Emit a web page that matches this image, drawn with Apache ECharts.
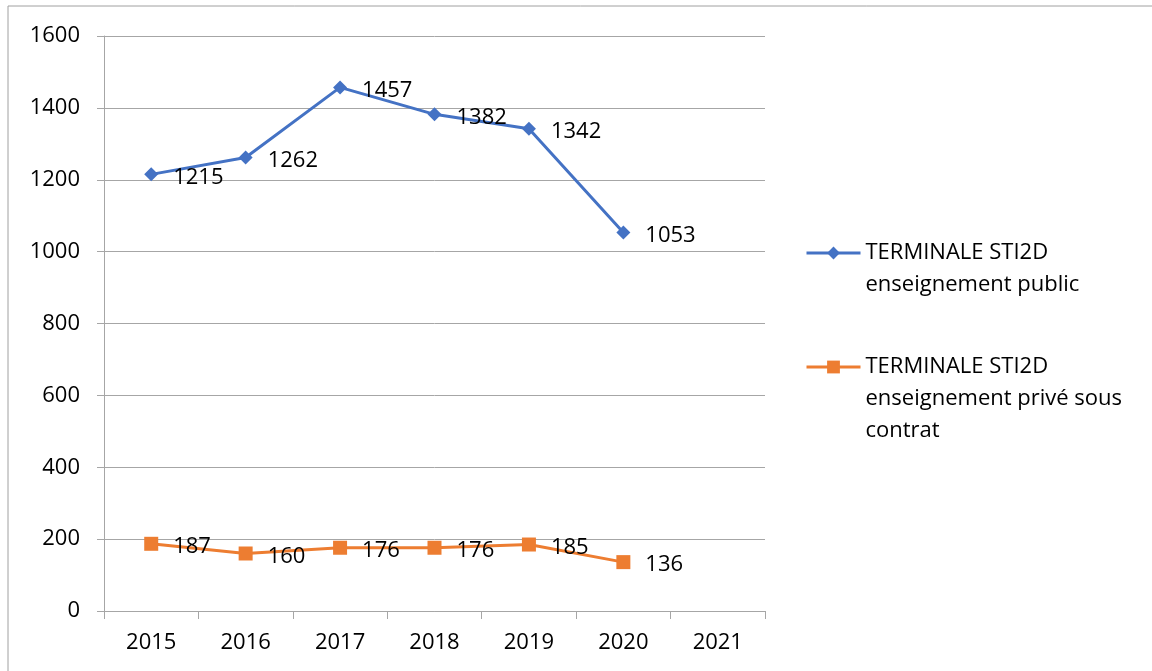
<!DOCTYPE html>
<html>
<head>
<meta charset="utf-8">
<script src="https://cdn.jsdelivr.net/npm/echarts@6/dist/echarts.min.js"></script>
<style>html,body{margin:0;padding:0;background:#fff}#c{width:1152px;height:671px}</style>
</head>
<body>
<div id="c"></div>
<script>
const categories = ['2015','2016','2017','2018','2019','2020','2021'];
const publicValues = [1215, 1262, 1457, 1382, 1342, 1053, null];
const privateValues = [187, 160, 176, 176, 185, 136, null];
const seriesNames = ['TERMINALE STI2D\nenseignement public', 'TERMINALE STI2D\nenseignement privé sous\ncontrat'];

const FONT = '"Open Sans", sans-serif';
const chart = echarts.init(document.getElementById('c'));
const labelCfg = {
  show: true, position: 'right', distance: 15, offset: [0, 3],
  color: '#000', fontSize: 22, fontFamily: FONT
};
// prepend blank lines so the legend marker sits on the first text line
const legendFmt = name => '\n'.repeat(name.split('\n').length - 1) + name;
const legendBase = {
  orient: 'vertical', left: 805, padding: 0,
  itemWidth: 54, itemHeight: 16, textGap: 6,
  lineStyle: { width: 3 },
  textStyle: { fontSize: 22, fontFamily: FONT, color: '#000', lineHeight: 32 },
  formatter: legendFmt
};
chart.setOption({
  animation: false,
  backgroundColor: '#fff',
  graphic: [{
    type: 'rect', shape: { x: 8, y: 6, width: 1200, height: 720 },
    style: { fill: 'none', stroke: '#a0a0a0', lineWidth: 1 }, z: -1
  }],
  grid: { left: 104, right: 387, top: 36, bottom: 60 },
  legend: [
    Object.assign({}, legendBase, { top: 205, data: [seriesNames[0]] }),
    Object.assign({}, legendBase, { top: 287, data: [seriesNames[1]] })
  ],
  xAxis: {
    type: 'category', data: categories, boundaryGap: true,
    axisLine: { lineStyle: { color: '#a6a6a6', width: 1 } },
    axisTick: { show: true, length: 8, lineStyle: { color: '#a6a6a6' } },
    axisLabel: { color: '#000', fontSize: 22, fontFamily: FONT, margin: 21 }
  },
  yAxis: {
    type: 'value', min: 0, max: 1600, interval: 200,
    axisLine: { show: true, lineStyle: { color: '#a6a6a6', width: 1 } },
    axisTick: { show: true, length: 7, lineStyle: { color: '#a6a6a6' } },
    axisLabel: { color: '#000', fontSize: 22, fontFamily: FONT, margin: 24, formatter: v => String(v) },
    splitLine: { lineStyle: { color: '#a6a6a6', width: 1 } }
  },
  series: [
    {
      name: seriesNames[0], type: 'line', data: publicValues,
      symbol: 'diamond', symbolSize: 14,
      lineStyle: { color: '#4472C4', width: 3 },
      itemStyle: { color: '#4472C4' },
      label: labelCfg
    },
    {
      name: seriesNames[1], type: 'line', data: privateValues,
      symbol: 'rect', symbolSize: 14,
      lineStyle: { color: '#ED7D31', width: 3 },
      itemStyle: { color: '#ED7D31' },
      label: labelCfg
    }
  ]
});
</script>
</body>
</html>
